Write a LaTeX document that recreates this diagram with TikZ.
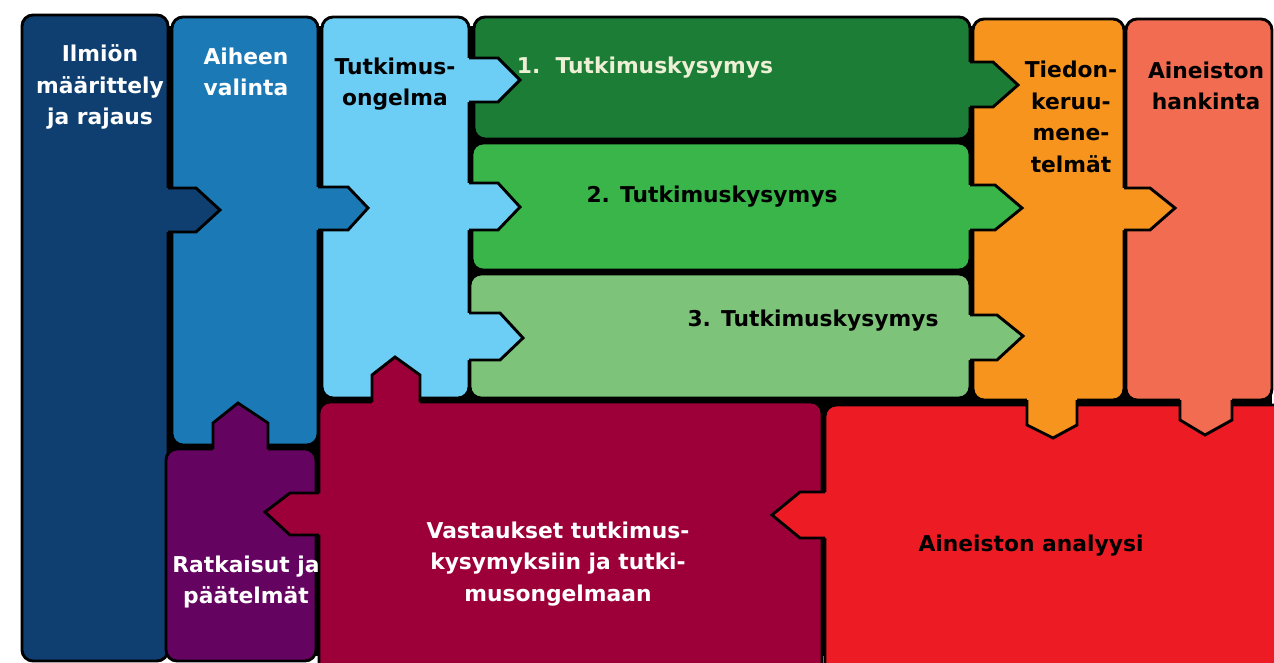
\documentclass[tikz,border=0pt]{standalone}
\usepackage{fontspec}
\setmainfont{DejaVu Sans}
\definecolor{navy}{RGB}{15,63,112}
\definecolor{pblue}{RGB}{27,122,182}
\definecolor{lblue}{RGB}{108,206,245}
\definecolor{dgreen}{RGB}{27,125,54}
\definecolor{mgreen}{RGB}{57,181,74}
\definecolor{lgreen}{RGB}{125,196,122}
\definecolor{porange}{RGB}{247,148,29}
\definecolor{salmon}{RGB}{241,108,80}
\definecolor{ppurple}{RGB}{101,4,96}
\definecolor{maroon}{RGB}{157,0,57}
\definecolor{pred}{RGB}{237,28,36}
\definecolor{cream}{RGB}{238,240,214}
% puzzle tabs: #1 colour, #2 own edge, #3 shoulder, #4 tip, #5/#6/#7 side positions
\newcommand\tabright[7]{%
  \fill[#1] (#2-2,#5) -- (#3,#5) -- (#4,#6) -- (#3,#7) -- (#2-2,#7) -- cycle;
  \draw[tabline] (#2,#5) -- (#3,#5) -- (#4,#6) -- (#3,#7) -- (#2,#7);}
\newcommand\tableft[7]{%
  \fill[#1] (#2+2,#5) -- (#3,#5) -- (#4,#6) -- (#3,#7) -- (#2+2,#7) -- cycle;
  \draw[tabline] (#2,#5) -- (#3,#5) -- (#4,#6) -- (#3,#7) -- (#2,#7);}
\newcommand\tabup[7]{%
  \fill[#1] (#5,#2+2) -- (#5,#3) -- (#6,#4) -- (#7,#3) -- (#7,#2+2) -- cycle;
  \draw[tabline] (#5,#2) -- (#5,#3) -- (#6,#4) -- (#7,#3) -- (#7,#2);}
\newcommand\tabdown[7]{%
  \fill[#1] (#5,#2-2) -- (#5,#3) -- (#6,#4) -- (#7,#3) -- (#7,#2-2) -- cycle;
  \draw[tabline] (#5,#2) -- (#5,#3) -- (#6,#4) -- (#7,#3) -- (#7,#2);}
\begin{document}
\begin{tikzpicture}[x=1pt,y=-1pt,
  piece/.style={draw=black, line width=2.9pt, rounded corners=11pt},
  tabline/.style={draw=black, line width=2.9pt, line join=miter},
  lbl/.style={font=\bfseries\fontsize{21.8}{31.5}\selectfont, align=center, inner sep=0pt}]
\useasboundingbox (0,0) rectangle (1274,662);
\fill[white] (0,0) rectangle (1274,662);
\clip (0,0) rectangle (1274,662);
% black seams between the pieces
\fill[black] (24,26) rectangle (1272,656);
% piece bodies
\path[piece, fill=navy]    (22,15)   rectangle (168,661);
\path[piece, fill=pblue]   (172,17)  rectangle (318,445);
\path[piece, fill=lblue]   (322,17)  rectangle (469,398);
\path[piece, fill=dgreen]  (474,17)  rectangle (970,139);
\path[piece, fill=mgreen]  (472,143) rectangle (970,270);
\path[piece, fill=lgreen]  (470,274) rectangle (970,398);
\path[piece, fill=porange] (973,19)  rectangle (1124,400);
\path[piece, fill=salmon]  (1126,19) rectangle (1272,400);
\path[piece, fill=ppurple] (166,449) rectangle (316,661);
\path[piece, fill=maroon]  (319,402) rectangle (822,675);
\path[piece, fill=pred]    (825,405) rectangle (1285,675);
% interlocking tabs
\tabright{navy}{168}{196}{220}{188}{210}{232}
\tabright{pblue}{318}{348}{368}{187}{208}{230}
\tabright{lblue}{469}{498}{520}{58}{80}{102}
\tabright{lblue}{469}{498}{520}{183}{207}{230}
\tabright{lblue}{469}{500}{523}{313}{338}{360}
\tabright{dgreen}{970}{993}{1018}{62}{85}{107}
\tabright{mgreen}{970}{995}{1022}{185}{208}{230}
\tabright{lgreen}{970}{997}{1023}{315}{336}{360}
\tabright{porange}{1124}{1150}{1175}{188}{208}{230}
\tabdown{porange}{400}{425}{438}{1027}{1053}{1077}
\tabdown{salmon}{400}{420}{435}{1180}{1205}{1232}
\tabup{ppurple}{449}{423}{403}{213}{238}{268}
\tabup{maroon}{402}{375}{357}{372}{395}{420}
\tableft{maroon}{319}{290}{265}{493}{512}{535}
\tableft{pred}{825}{800}{772}{492}{515}{538}
% labels
\node[lbl, white] (ilmio) at (100,87) {Ilmiön\\määrittely\\ja rajaus};
\node[lbl, white] (aihe) at (246,72) {Aiheen\\valinta};
\node[lbl] (ongelma) at (395,84) {Tutkimus-\\ongelma};
\node[lbl, cream] (kys1) at (645,68) {1.\ \ Tutkimuskysymys};
\node[lbl] (kys2) at (712,197) {2. Tutkimuskysymys};
\node[lbl] (kys3) at (813,321) {3. Tutkimuskysymys};
\node[lbl] (tiedon) at (1071,117) {Tiedon-\\keruu-\\mene-\\telmät};
\node[lbl] (hankinta) at (1206,86) {Aineiston\\hankinta};
\node[lbl, white] (ratkaisut) at (246,582) {Ratkaisut ja\\päätelmät};
\node[lbl, white] (vastaukset) at (558,564) {Vastaukset tutkimus-\\kysymyksiin ja tutki-\\musongelmaan};
\node[lbl] (analyysi) at (1031,546) {Aineiston analyysi};
\end{tikzpicture}
\end{document}
